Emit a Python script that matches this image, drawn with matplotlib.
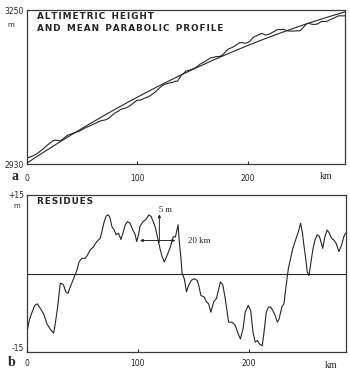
import numpy as np
import matplotlib.pyplot as plt
from matplotlib.transforms import ScaledTranslation

# distance along the profile (km) and residues (m)
km = [0, 2, 4, 7, 9.4, 12, 15, 18, 20, 22, 24, 25, 27.5, 30, 31, 33, 35, 37, 39, 42,
      45, 47, 49.5, 52.5, 54.6, 57, 60, 63, 66, 67.6, 69.7, 71.5, 73.6, 75, 76.6, 78.7,
      80.5, 82.6, 84.8, 86.6, 88.7, 90.8, 93, 95.6, 97.7, 99, 100.7, 102, 104.7, 107.7,
      110, 112, 114, 116, 118, 120, 122, 124, 126, 129, 132, 134, 136.4, 137.5, 139, 140,
      142, 144, 146, 148.4, 151, 153.5, 155, 157, 160, 162, 164, 166, 168.6, 171, 172.5,
      174.6, 176.8, 179, 180.7, 182, 185, 188, 190.6, 192.7, 195, 197, 199.7, 202, 204,
      206, 208, 210, 212.4, 214, 216, 218, 220, 222, 224, 226, 227.6, 230, 232, 234, 236,
      238, 240, 242.5, 245, 247, 248.5, 250, 251.6, 253, 254.6, 256, 258, 260, 262, 264,
      267, 269, 271, 273, 275, 277, 279, 281.6, 284, 286, 287.5]
residues = [-11.2, -9.0, -7.7, -6.1, -5.8, -6.7, -7.7, -9.6, -10.3, -10.9, -11.4, -10.3,
            -6.7, -1.9, -1.9, -2.2, -3.5, -3.8, -2.6, -1.0, 0.6, 2.2, 2.9, 2.9, 3.5, 4.5,
            5.1, 6.1, 6.7, 8.0, 9.9, 11.0, 11.2, 10.6, 9.0, 8.3, 7.4, 7.7, 6.5, 7.7, 9.3,
            9.9, 9.6, 8.3, 7.4, 6.1, 7.4, 9.0, 9.9, 10.4, 11.2, 10.9, 9.9, 8.7, 6.7, 4.8,
            3.2, 2.2, 3.2, 4.8, 7.0, 7.0, 9.3, 6.1, 2.9, 0.0, -1.0, -3.5, -2.2, -1.3, -1.0,
            -1.3, -2.2, -4.2, -4.5, -5.4, -5.8, -7.4, -5.4, -4.8, -3.5, -1.6, -2.2, -4.8,
            -7.4, -9.3, -9.3, -9.9, -11.5, -12.5, -10.6, -7.4, -6.1, -7.1, -11.2, -13.1,
            -12.8, -13.5, -13.8, -11.2, -7.4, -6.4, -6.4, -7.1, -8.0, -9.3, -8.7, -6.4,
            -5.8, -2.2, 1.0, 2.9, 4.8, 6.4, 8.0, 9.6, 8.0, 5.4, 2.9, 0.3, -0.4, 1.6, 4.5,
            6.4, 7.4, 7.1, 4.8, 7.1, 8.3, 7.7, 6.7, 6.4, 5.8, 4.2, 5.4, 7.0, 7.7]

# mean parabolic profile h = a + b*x + c*x^2 (m)
parabola_coef = [2932.0, 1.519, -0.001488]

x_ticks = [0, 100, 200]
x_tick_labels = ['0', '100', '200']
top_ylim = (2930, 3250)
res_ylim = (-15, 15)

km = np.array(km)
residues = np.array(residues)
a, b, c = parabola_coef
x_fit = np.linspace(0, 288, 300)
mean_profile = a + b * x_fit + c * x_fit ** 2
height = a + b * km + c * km ** 2 - residues

ink = '#262626'
plt.rcParams['font.family'] = 'DejaVu Sans'


def spaced(s):
    return '\u200a'.join(s)


fig = plt.figure(figsize=(3.5, 3.68), dpi=100)
ax1 = fig.add_axes([27 / 350, 1 - 164 / 368, 318 / 350, 154 / 368])
ax2 = fig.add_axes([27 / 350, 1 - 352 / 368, 319 / 350, 157 / 368])

for ax in (ax1, ax2):
    ax.set_xlim(0, 288)
    for s in ax.spines.values():
        s.set_linewidth(0.9)
        s.set_color('#3a3a3a')
    ax.set_xticks(x_ticks)
    ax.set_xticklabels(x_tick_labels)
    ax.tick_params(axis='x', direction='in', length=2.5, width=0.8, labelsize=5.5,
                   colors=ink)
    ax.tick_params(axis='y', length=0, labelsize=5.5, pad=2, colors=ink)

title_kw = dict(fontsize=6.4, fontweight='bold', va='center', color=ink)

# panel a
ax1.plot(x_fit, mean_profile, color=ink, lw=0.8)
ax1.plot(km, height, color=ink, lw=0.8)
ax1.set_ylim(*top_ylim)
ax1.set_yticks(list(top_ylim))
ax1.set_yticklabels(['2930', '3250'])
ax1.tick_params(axis='x', pad=7)
ax1.text(-0.04, 0.905, 'm', transform=ax1.transAxes, fontsize=5, ha='right',
         va='center', color=ink)
ax1.text(0.031, 0.961, spaced('ALTIMETRIC') + '  ' + spaced('HEIGHT'),
         transform=ax1.transAxes, **title_kw)
ax1.text(0.031, 0.877, spaced('AND') + '  ' + spaced('MEAN') + '  ' +
         spaced('PARABOLIC') + '  ' + spaced('PROFILE'),
         transform=ax1.transAxes, **title_kw)
ax1.text(0.94, -0.084, 'km', transform=ax1.transAxes, fontsize=7,
         family='Liberation Serif', ha='center', va='center', color=ink)

# panel b
ax2.plot(km, residues, color=ink, lw=0.8)
ax2.axhline(0, color=ink, lw=0.8)
ax2.set_ylim(*res_ylim)
ax2.set_yticks(list(res_ylim))
ax2.set_yticklabels(['-15', '+15'])
ax2.tick_params(axis='x', pad=5)
lo_label = ax2.get_yticklabels()[0]
lo_label.set_transform(lo_label.get_transform() +
                       ScaledTranslation(0, 3 / 72, fig.dpi_scale_trans))
ax2.text(-0.02, 0.93, 'm', transform=ax2.transAxes, fontsize=5, ha='right',
         va='center', color=ink)
ax2.text(0.031, 0.959, spaced('RESIDUES'), transform=ax2.transAxes, **title_kw)
ax2.text(0.953, -0.083, 'km', transform=ax2.transAxes, fontsize=7,
         family='Liberation Serif', ha='center', va='center', color=ink)

# scale bars
ax2.annotate('', xy=(119.5, 11.3), xytext=(119.5, 6.0),
             arrowprops=dict(arrowstyle='-|>', color=ink, lw=0.7,
                             mutation_scale=4, shrinkA=0, shrinkB=0))
ax2.annotate('', xy=(102, 6.3), xytext=(134, 6.3),
             arrowprops=dict(arrowstyle='<|-|>', color=ink, lw=0.7,
                             mutation_scale=4, shrinkA=0, shrinkB=0))
ax2.text(125, 12.2, '5 m', fontsize=6, family='Liberation Serif', ha='center',
         va='center', color=ink)
ax2.text(145.5, 6.3, '20 km', fontsize=6.5, family='Liberation Serif', ha='left',
         va='center', color=ink)

fig.text(15 / 350, 1 - 176 / 368, 'a', fontsize=10, fontweight='bold',
         family='Liberation Serif', ha='center', va='center', color=ink)
fig.text(12 / 350, 1 - 362 / 368, 'b', fontsize=10, fontweight='bold',
         family='Liberation Serif', ha='center', va='center', color=ink)

fig.savefig('out.png', dpi=100)
